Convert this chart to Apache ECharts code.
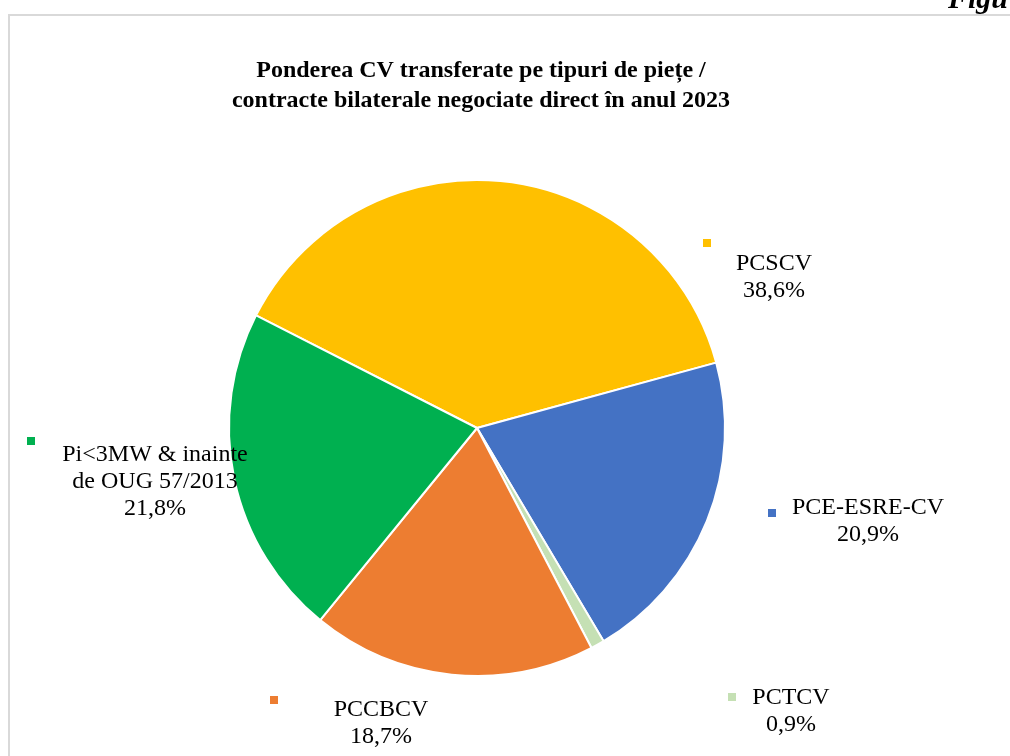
<!DOCTYPE html>
<html>
<head>
<meta charset="utf-8">
<script src="https://cdn.jsdelivr.net/npm/echarts@6/dist/echarts.min.js"></script>
<style>
  html, body { margin: 0; padding: 0; background: #fff; }
  #chart { width: 1010px; height: 756px; }
</style>
</head>
<body>
<div id="chart"></div>
<script>
// date: ponderea CV pe tipuri de piete (%)
const categories = ["PCSCV", "PCE-ESRE-CV", "PCTCV", "PCCBCV", "Pi<3MW & inainte\nde OUG 57/2013"];
const values = [38.6, 20.9, 0.9, 18.7, 21.8];
const valueLabels = ["38,6%", "20,9%", "0,9%", "18,7%", "21,8%"];
const colors = ["#ffc000", "#4472c4", "#c5e0b4", "#ed7d31", "#00b050"];

// pozitii etichete (centru bloc text) si chei de legenda
const textPos = [[774, 277], [868, 521], [791, 711], [381, 723], [155, 482]];
const keyPos = [[707, 243], [772, 513], [732, 697], [274, 700], [31, 441]];

const serif = "'Liberation Serif', 'Times New Roman', serif";

const pieData = categories.map((name, i) => ({
  name: name,
  value: values[i],
  itemStyle: { color: colors[i] }
}));

const keyRich = {};
colors.forEach((c, i) => {
  keyRich["m" + i] = { width: 8, height: 8, backgroundColor: c };
});

const chart = echarts.init(document.getElementById("chart"), null, { renderer: "canvas" });
chart.setOption({
  backgroundColor: "#fff",
  animation: false,
  title: {
    text: "Ponderea CV transferate pe tipuri de piețe /\ncontracte bilaterale negociate direct în anul 2023",
    left: 476,
    top: 51,
    textAlign: "center",
    textStyle: {
      fontFamily: serif,
      fontWeight: "bold",
      fontSize: 24,
      lineHeight: 30,
      color: "#000"
    }
  },
  graphic: [
    {
      type: "polyline",
      shape: { points: [[9, 756], [9, 15], [1010, 15]] },
      style: { stroke: "#d9d9d9", lineWidth: 2, fill: null }
    },
    {
      type: "text",
      left: 948,
      top: -15,
      style: {
        text: "Figu",
        font: "italic bold 30px " + serif,
        fill: "#000"
      }
    }
  ],
  series: [
    {
      type: "pie",
      center: [477, 428],
      radius: 248,
      startAngle: 153,
      clockwise: true,
      avoidLabelOverlap: false,
      itemStyle: { borderColor: "#fff", borderWidth: 2 },
      label: {
        show: true,
        position: "outside",
        fontFamily: serif,
        fontSize: 24,
        lineHeight: 27,
        color: "#000",
        align: "center",
        formatter: p => p.name + "\n" + valueLabels[p.dataIndex]
      },
      labelLine: { show: false },
      labelLayout: p => ({
        x: textPos[p.dataIndex][0],
        y: textPos[p.dataIndex][1],
        align: "center",
        verticalAlign: "middle"
      }),
      emphasis: { disabled: true },
      data: pieData
    },
    {
      // chei de legenda langa etichete
      type: "pie",
      center: [477, 428],
      radius: 248,
      startAngle: 153,
      silent: true,
      avoidLabelOverlap: false,
      itemStyle: { color: "rgba(0,0,0,0)" },
      label: {
        show: true,
        position: "outside",
        formatter: p => "{m" + p.dataIndex + "|}",
        rich: keyRich
      },
      labelLine: { show: false },
      labelLayout: p => ({
        x: keyPos[p.dataIndex][0],
        y: keyPos[p.dataIndex][1],
        align: "center",
        verticalAlign: "middle"
      }),
      data: categories.map((name, i) => ({ name: name, value: values[i] }))
    }
  ]
});
</script>
</body>
</html>
